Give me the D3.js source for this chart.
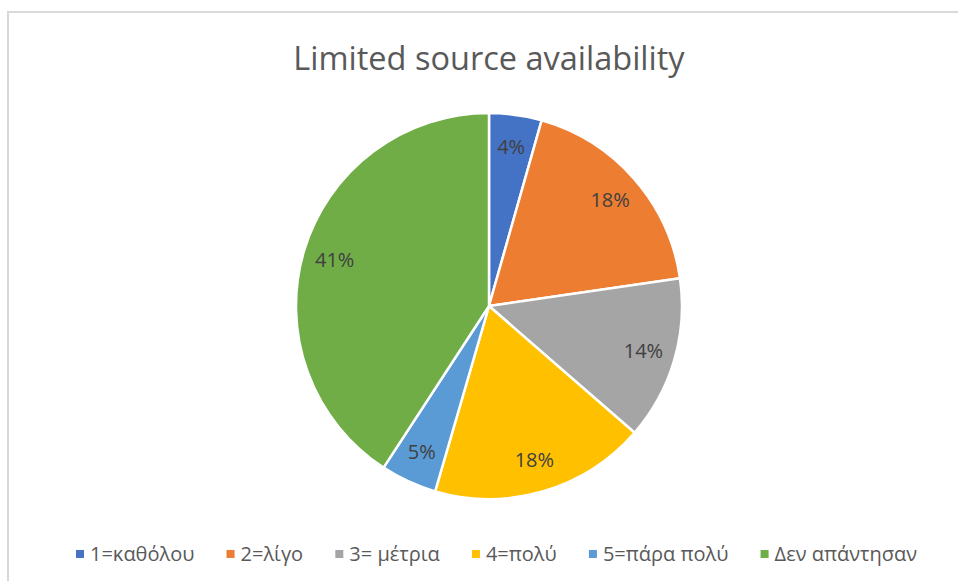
<!DOCTYPE html>
<html>
<head>
<meta charset="utf-8">
<script src="https://cdn.jsdelivr.net/npm/d3@7"></script>
<style>
  body { margin: 0; background: #fff; }
  svg { display: block; font-family: "Open Sans", "Noto Sans", sans-serif; }
</style>
</head>
<body>
<div id="chart"></div>
<script>
const title = 'Limited source availability'
const categories = ['1=καθόλου', '2=λίγο', '3= μέτρια', '4=πολύ', '5=πάρα πολύ', 'Δεν απάντησαν']
const values = [4.4, 18.3, 13.7, 18.1, 4.7, 40.8]
const colors = ['#4472C4', '#ED7D31', '#A5A5A5', '#FFC000', '#5B9BD5', '#70AD47']

const width = 958
const height = 581
const cx = 489
const cy = 306
const radius = 193

const svg = d3.select('#chart')
  .append('svg')
  .attr('width', width)
  .attr('height', height)

// chart border
svg.append('rect')
  .attr('x', 8)
  .attr('y', 12)
  .attr('width', width + 20)
  .attr('height', height + 20)
  .attr('fill', '#fff')
  .attr('stroke', '#d9d9d9')
  .attr('stroke-width', 2)

svg.append('text')
  .attr('x', cx)
  .attr('y', 70)
  .attr('text-anchor', 'middle')
  .attr('fill', '#595959')
  .attr('font-size', 32.5)
  .text(title)

const total = d3.sum(values)
const pie = d3.pie().sort(null).value(d => d)
const arcs = pie(values)
const arc = d3.arc().innerRadius(0).outerRadius(radius)
const labelArc = d3.arc().innerRadius(161).outerRadius(161)

const g = svg.append('g')
  .attr('transform', `translate(${cx},${cy})`)

g.selectAll('path')
  .data(arcs)
  .enter()
  .append('path')
  .attr('d', arc)
  .attr('fill', (d, i) => colors[i])
  .attr('stroke', '#fff')
  .attr('stroke-width', 2.5)
  .attr('stroke-linejoin', 'round')

g.selectAll('text.lbl')
  .data(arcs)
  .enter()
  .append('text')
  .attr('class', 'lbl')
  .attr('x', d => labelArc.centroid(d)[0])
  .attr('y', d => labelArc.centroid(d)[1])
  .attr('dy', '0.35em')
  .attr('text-anchor', 'middle')
  .attr('fill', '#404040')
  .attr('font-size', 20)
  .text(d => Math.round(d.data / total * 100) + '%')

// legend, spread between x=76 and x=917 like the original
const legend = svg.append('g')
const items = legend.selectAll('g')
  .data(categories)
  .enter()
  .append('g')

items.append('rect')
  .attr('width', 8)
  .attr('height', 8)
  .attr('y', -11)
  .attr('fill', (d, i) => colors[i])

items.append('text')
  .attr('x', 14)
  .attr('y', 0)
  .attr('fill', '#595959')
  .attr('font-size', 20)
  .text(d => d)

const widths = []
items.each(function() {
  widths.push(14 + d3.select(this).select('text').node().getComputedTextLength())
})
const gap = (917 - 76 - d3.sum(widths)) / (categories.length - 1)
let xPos = 0
items.each(function(d, i) {
  d3.select(this).attr('transform', `translate(${xPos},0)`)
  xPos += widths[i] + gap
})
legend.attr('transform', 'translate(76,561)')
</script>
</body>
</html>
